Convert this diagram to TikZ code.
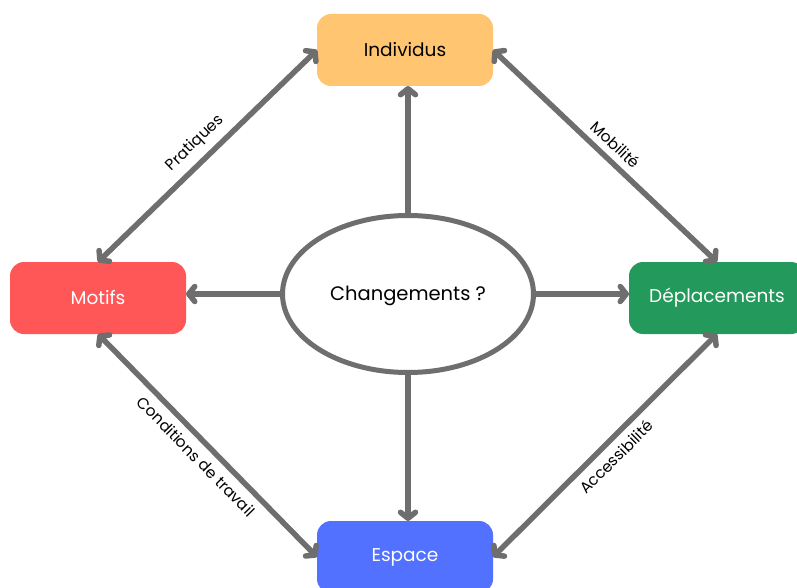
\documentclass[tikz,border=0pt]{standalone}
\usepackage{fontspec}
\setmainfont{Poppins}
\usetikzlibrary{arrows.meta,shapes.geometric}
\definecolor{cgray}{HTML}{6E6E6E}
\definecolor{cind}{HTML}{FFC570}
\definecolor{cmot}{HTML}{FF5757}
\definecolor{cdep}{HTML}{23995B}
\definecolor{cesp}{HTML}{5271FF}
\tikzset{
  box/.style={rectangle, rounded corners=14pt, minimum width=176pt, minimum height=72pt,
    inner sep=0pt, outer sep=0pt, font=\fontsize{18.5}{21}\selectfont},
  conn/.style={cgray, line width=5.5pt, -{Straight Barb[length=6pt,width=15pt,line cap=round,line join=round]}},
  dconn/.style={cgray, line width=5.5pt, {Straight Barb[length=6pt,width=15pt,line cap=round,line join=round]}-{Straight Barb[length=6pt,width=15pt,line cap=round,line join=round]}},
  lab/.style={font=\fontsize{15.5}{18}\selectfont, text=black, sloped, midway, inner sep=2pt}
}
\begin{document}
\begin{tikzpicture}[x=1pt,y=-1pt]
\useasboundingbox (0,0) rectangle (797,588);
\clip (0,0) rectangle (797,588);
\fill[white] (0,0) rectangle (797,588);
\node[box, fill=cind, text=black] (ind) at (405,50) {Individus};
\node[box, fill=cmot, text=white] (mot) at (98,298) {Motifs};
\node[box, fill=cdep, text=white] (dep) at (717,298) {Déplacements};
\node[box, fill=cesp, text=white] (esp) at (405,557) {Espace};
\node[ellipse, draw=cgray, line width=5pt, minimum width=251pt, minimum height=157pt,
  inner sep=0pt, outer sep=2.5pt] (ell) at (408,294) {};
\node[font=\fontsize{19.5}{22}\selectfont, inner sep=0pt] (chg) at (408,296) {Changements ?};
\draw[conn] (ell.north) -- (ind.south -| ell.north);
\draw[conn] (ell.south) -- (esp.north -| ell.south);
\draw[conn] (ell.west) -- (mot.east |- ell.west);
\draw[conn] (ell.east) -- (dep.west |- ell.east);
\draw[dconn] (mot.north) -- node[lab, above=5pt] {Pratiques} (ind.west);
\draw[dconn] (ind.east) -- node[lab, above=5pt] {Mobilité} (dep.north);
\draw[dconn] (mot.south) -- node[lab, below=5pt] {Conditions de travail} (esp.west);
\draw[dconn] (esp.east) -- node[lab, below=5pt] {Accessibilité} (dep.south);
\end{tikzpicture}
\end{document}
